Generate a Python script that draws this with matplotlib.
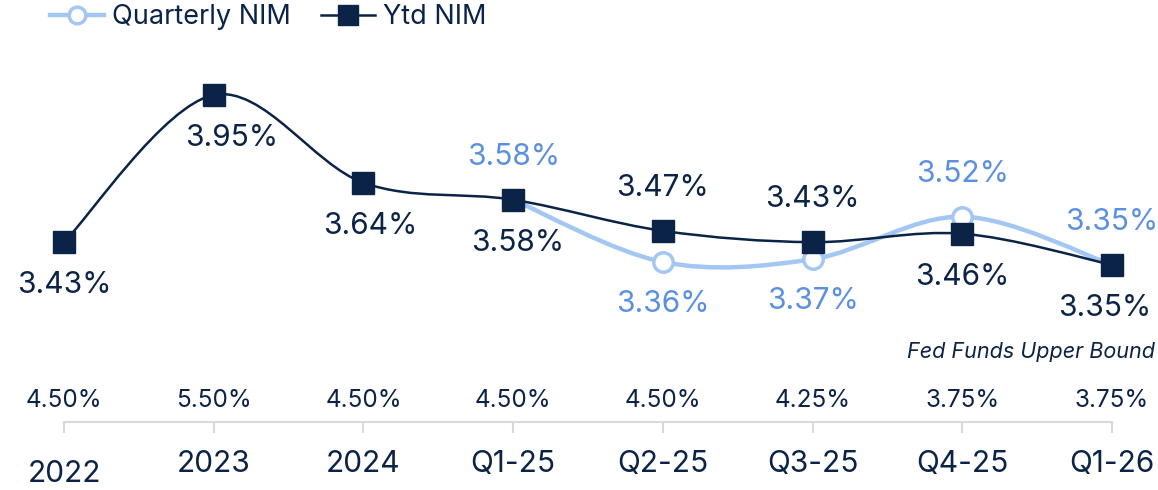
import matplotlib
matplotlib.use("Agg")
import matplotlib.pyplot as plt
from matplotlib.path import Path
from matplotlib.patches import PathPatch
from matplotlib.lines import Line2D
from matplotlib.transforms import ScaledTranslation, blended_transform_factory

categories = ["2022", "2023", "2024", "Q1-25", "Q2-25", "Q3-25", "Q4-25", "Q1-26"]
ytd_nim = [3.43, 3.95, 3.64, 3.58, 3.47, 3.43, 3.46, 3.35]
quarterly_nim = [None, None, None, 3.58, 3.36, 3.37, 3.52, 3.35]
fed_funds = ["4.50%", "5.50%", "4.50%", "4.50%", "4.50%", "4.25%", "3.75%", "3.75%"]

# label placement: +1 above the marker, -1 below; dx nudges in points
ytd_side = [-1, -1, -1, -1, 1, 1, -1, -1]
ytd_dx = [0, 13, 5, 3, 0, 0, 0, -5]
qtr_side = [0, 0, 0, 1, -1, -1, 1, 1]

NAVY = "#0b2346"
LIGHT = "#a3c7f2"
BLUE_TXT = "#5b8fe0"
GRID = "#d9d9d9"

plt.rcParams['font.family'] = ['Inter', 'DejaVu Sans']


def smooth_path(xs, ys):
    # excel-like smoothed line: cubic bezier with 1/6 neighbour tangents
    pts = list(zip(xs, ys))
    verts = [pts[0]]
    codes = [Path.MOVETO]
    n = len(pts)
    for i in range(n - 1):
        p0 = pts[max(i - 1, 0)]
        p1 = pts[i]
        p2 = pts[i + 1]
        p3 = pts[min(i + 2, n - 1)]
        c1 = (p1[0] + (p2[0] - p0[0]) / 6, p1[1] + (p2[1] - p0[1]) / 6)
        c2 = (p2[0] - (p3[0] - p1[0]) / 6, p2[1] - (p3[1] - p1[1]) / 6)
        verts += [c1, c2, p2]
        codes += [Path.CURVE4] * 3
    return Path(verts, codes)


fig = plt.figure(figsize=(11.58, 4.9), dpi=100)
ax = fig.add_axes([0, 0, 1, 1])
ax.set_xlim(-0.4275, 7.307)
ax.set_ylim(2.5543, 4.2857)

xs = list(range(len(categories)))

q_x = [x for x, v in zip(xs, quarterly_nim) if v is not None]
q_y = [v for v in quarterly_nim if v is not None]

ax.add_patch(PathPatch(smooth_path(q_x, q_y), fill=False, edgecolor=LIGHT, lw=3.2, zorder=2))
ax.plot(q_x, q_y, linestyle="none", marker="o", ms=14, mfc="white", mec=LIGHT, mew=2.5, zorder=3)

ax.add_patch(PathPatch(smooth_path(xs, ytd_nim), fill=False, edgecolor=NAVY, lw=1.8, zorder=4))
ax.plot(xs, ytd_nim, linestyle="none", marker="s", ms=16, mfc=NAVY, mec=NAVY, zorder=5)

for x, v, s, dx in zip(xs, ytd_nim, ytd_side, ytd_dx):
    off = 31 if s > 0 else -31
    ax.annotate(f"{v:.2f}%", (x, v), xytext=(dx, off), textcoords="offset points",
                ha="center", va="center", fontsize=21.5, color=NAVY, zorder=6)

for x, v, s in zip(xs, quarterly_nim, qtr_side):
    if v is None:
        continue
    off = 31 if s > 0 else -30
    ax.annotate(f"{v:.2f}%", (x, v), xytext=(0, off), textcoords="offset points",
                ha="center", va="center", fontsize=21.5, color=BLUE_TXT, zorder=6)

# x axis used as category axis
for side in ["top", "right", "left"]:
    ax.spines[side].set_visible(False)
ax.spines["bottom"].set_position(("axes", 1 - 422 / 490))
ax.spines["bottom"].set_bounds(0, 7)
ax.spines["bottom"].set_color(GRID)
ax.spines["bottom"].set_linewidth(1.5)
ax.set_xticks(xs)
ax.set_xticklabels(categories)
ax.tick_params(axis="x", length=8, width=1.5, color=GRID, pad=12, labelsize=21.5, labelcolor=NAVY)
ax.set_yticks([])
lab0 = ax.get_xticklabels()[0]
lab0.set_transform(lab0.get_transform() + ScaledTranslation(0, -7 / 72, fig.dpi_scale_trans))

trans = blended_transform_factory(ax.transData, ax.transAxes)
for x, f in zip(xs, fed_funds):
    ax.text(x, 1 - 400 / 490, f, transform=trans, ha="center", va="center",
            fontsize=17.5, color=NAVY)
ax.text(1155 / 1158, 1 - 352 / 490, "Fed Funds Upper Bound", transform=ax.transAxes,
        ha="right", va="center", fontsize=15.5, style="italic", color=NAVY)

handles = [
    Line2D([], [], color=LIGHT, lw=3.2, marker="o", ms=12, mfc="white", mec=LIGHT, mew=2.5),
    Line2D([], [], color=NAVY, lw=1.8, marker="s", ms=14, mfc=NAVY, mec=NAVY),
]
fig.legend(handles, ["Quarterly NIM", "Ytd NIM"], loc="center left",
           bbox_to_anchor=(50 / 1158, 1 - 17 / 490), ncol=2, frameon=False,
           fontsize=19.5, handlelength=2.0, handletextpad=0.3, columnspacing=1.1,
           labelcolor=NAVY, borderaxespad=0, borderpad=0)

fig.savefig("out.png", dpi=100)
